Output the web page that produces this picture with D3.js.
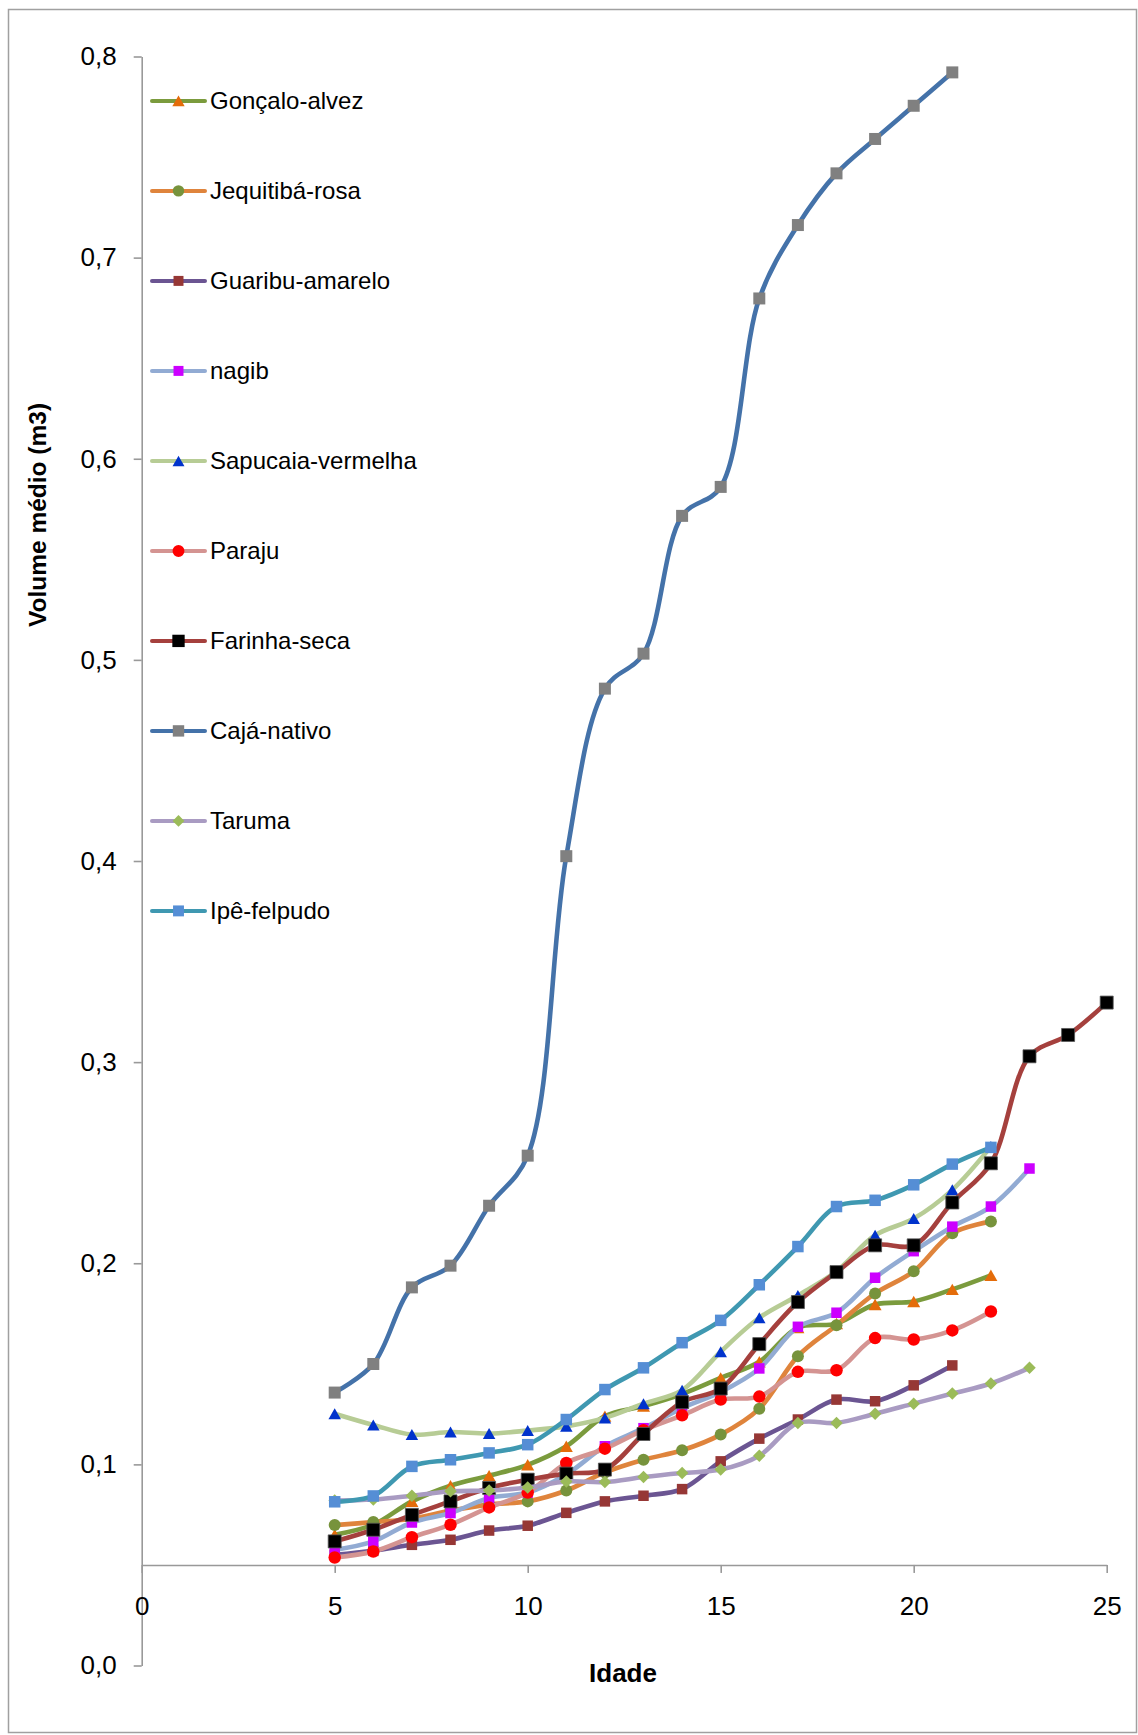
<!DOCTYPE html>
<html>
<head>
<meta charset="utf-8">
<script src="https://cdn.jsdelivr.net/npm/d3@7"></script>
<style>
  body { margin: 0; background: #fff; }
  svg { display: block; }
  text { font-family: "Liberation Sans", Arial, Helvetica, sans-serif; fill: #000; }
</style>
</head>
<body>
<svg id="chart" width="1138" height="1735"></svg>
<script>
// Ages (years) at which each species was measured
const ages = [5, 6, 7, 8, 9, 10, 11, 12, 13, 14, 15, 16, 17, 18, 19, 20, 21, 22, 23, 24, 25];

// Mean volume (m3) per age, starting at age 5
const goncaloAlvez    = [0.065, 0.070, 0.0816, 0.0894, 0.0944, 0.0998, 0.109, 0.124, 0.129, 0.135, 0.143, 0.151, 0.168, 0.170, 0.1795, 0.181, 0.187, 0.194];
const jequitibaRosa   = [0.0698, 0.0713, 0.073, 0.077, 0.080, 0.0816, 0.087, 0.096, 0.1023, 0.107, 0.1148, 0.1277, 0.1538, 0.1692, 0.185, 0.196, 0.2149, 0.2207];
const guaribuAmarelo  = [0.055, 0.057, 0.060, 0.0625, 0.0671, 0.0695, 0.0759, 0.0816, 0.0844, 0.0877, 0.1015, 0.1128, 0.1223, 0.1322, 0.1314, 0.1393, 0.1492];
const nagib           = [0.0575, 0.0617, 0.0711, 0.0758, 0.0833, 0.086, 0.095, 0.109, 0.118, 0.128, 0.136, 0.1477, 0.1684, 0.1754, 0.1928, 0.206, 0.2182, 0.2282, 0.2471];
const sapucaiaVermelha= [0.1252, 0.1196, 0.1148, 0.1161, 0.1153, 0.1168, 0.1189, 0.1231, 0.1302, 0.1369, 0.156, 0.1729, 0.184, 0.196, 0.2139, 0.2222, 0.2365, 0.258];
const paraju          = [0.0537, 0.0567, 0.0638, 0.070, 0.0786, 0.086, 0.1007, 0.1078, 0.117, 0.1244, 0.1322, 0.1337, 0.146, 0.1468, 0.1628, 0.1621, 0.1666, 0.176];
const farinhaSeca     = [0.0617, 0.0675, 0.0749, 0.0816, 0.0883, 0.0924, 0.0954, 0.0974, 0.1151, 0.1309, 0.1377, 0.1598, 0.1807, 0.1956, 0.2089, 0.2089, 0.2302, 0.2497, 0.3029, 0.3135, 0.3296];
const cajaNativo      = [0.1357, 0.1499, 0.188, 0.1988, 0.2286, 0.2535, 0.4024, 0.4857, 0.5031, 0.5716, 0.586, 0.6797, 0.7162, 0.7419, 0.759, 0.7755, 0.7921];
const taruma          = [0.082, 0.0825, 0.0844, 0.0866, 0.087, 0.0885, 0.0915, 0.0912, 0.0937, 0.0957, 0.0974, 0.1043, 0.1206, 0.1206, 0.1252, 0.1302, 0.1352, 0.1402, 0.148];
const ipeFelpudo      = [0.0814, 0.0843, 0.099, 0.1023, 0.1057, 0.1098, 0.1223, 0.1372, 0.148, 0.1605, 0.1716, 0.1893, 0.2083, 0.2282, 0.2313, 0.239, 0.2493, 0.2576];

const seriesNames = ["Gonçalo-alvez", "Jequitibá-rosa", "Guaribu-amarelo", "nagib", "Sapucaia-vermelha",
                     "Paraju", "Farinha-seca", "Cajá-nativo", "Taruma", "Ipê-felpudo"];
const seriesValues = [goncaloAlvez, jequitibaRosa, guaribuAmarelo, nagib, sapucaiaVermelha,
                      paraju, farinhaSeca, cajaNativo, taruma, ipeFelpudo];

const yTicks = [0, 0.1, 0.2, 0.3, 0.4, 0.5, 0.6, 0.7, 0.8];
const xTicks = [0, 5, 10, 15, 20, 25];

// Styling per series
const lineColors   = ["#7B9B3D", "#DF843C", "#6B5592", "#92ABD3", "#B7CC95", "#D49492", "#A5403D", "#4472A9", "#A99BC2", "#3F98B1"];
const markerColors = ["#E46C0A", "#77933C", "#963735", "#CC00FF", "#0033CC", "#FF0000", "#000000", "#808080", "#9BBB59", "#558ED5"];
const markerShapes = ["triangle", "circle", "square", "square", "triangle", "circle", "square", "square", "diamond", "square"];
const markerSizes  = [13, 12, 10.5, 10.5, 12.5, 12.5, 13, 12, 12.5, 11.5];

const svg = d3.select("#chart");

// Outer chart frame
svg.append("rect")
  .attr("x", 8.5).attr("y", 9.5).attr("width", 1128).attr("height", 1723)
  .attr("fill", "#fff").attr("stroke", "#a0a0a0").attr("stroke-width", 1.5);

const x = d3.scaleLinear().domain([0, 25]).range([141.7, 1106.7]);
const y = d3.scaleLinear().domain([0, 0.8]).range([1665.5, 56.5]);

const fmtY = d => d3.format(".1f")(d).replace(".", ",");

// Y axis
const yAxis = svg.append("g")
  .attr("transform", `translate(${x(0)},0)`)
  .call(d3.axisLeft(y).tickValues(yTicks).tickFormat(fmtY).tickSize(8).tickSizeOuter(0).tickPadding(17));

// X axis, crossing the value axis at 0.05
const xAxis = svg.append("g")
  .attr("transform", `translate(0,${y(0.05)})`)
  .call(d3.axisBottom(x).tickValues(xTicks).tickFormat(d3.format("d")).tickSize(8).tickSizeOuter(0).tickPadding(24));

[yAxis, xAxis].forEach(g => {
  g.selectAll("path.domain").attr("stroke", "#999").attr("stroke-width", 1.6);
  g.selectAll(".tick line").attr("stroke", "#999").attr("stroke-width", 1.6);
  g.selectAll(".tick text").attr("font-size", 26).attr("font-family", "'Liberation Sans', Arial, sans-serif").attr("fill", "#000");
});

// Axis titles
svg.append("text")
  .attr("transform", `translate(37,515) rotate(-90)`)
  .attr("text-anchor", "middle").attr("dominant-baseline", "central")
  .attr("font-size", 24.5).attr("font-weight", "bold")
  .text("Volume médio (m3)");

svg.append("text")
  .attr("x", 623).attr("y", 1682)
  .attr("text-anchor", "middle")
  .attr("font-size", 26).attr("font-weight", "bold")
  .text("Idade");

// Marker path generator
function markerPath(shape, s) {
  if (shape === "square") return d3.symbol(d3.symbolSquare, s * s)();
  if (shape === "circle") return d3.symbol(d3.symbolCircle, Math.PI * (s / 2) * (s / 2))();
  if (shape === "triangle") {
    const h = s * 0.88;
    return `M0,${-h / 2}L${s / 2},${h / 2}L${-s / 2},${h / 2}Z`;
  }
  const r = s / 2; // diamond
  return `M0,${-r}L${r},0L0,${r}L${-r},0Z`;
}

const line = d3.line()
  .x(d => x(d.age))
  .y(d => y(d.v))
  .curve(d3.curveCatmullRom.alpha(0.5));

const plot = svg.append("g");
seriesValues.forEach((vals, i) => {
  const pts = vals.map((v, k) => ({ age: ages[k], v }));
  const g = plot.append("g");
  g.append("path")
    .datum(pts)
    .attr("d", line)
    .attr("fill", "none")
    .attr("stroke", lineColors[i])
    .attr("stroke-width", 4.6)
    .attr("stroke-linejoin", "round")
    .attr("stroke-linecap", "round");
  g.selectAll("path.mk")
    .data(pts)
    .join("path")
    .attr("class", "mk")
    .attr("transform", d => `translate(${x(d.age)},${y(d.v)})`)
    .attr("d", markerPath(markerShapes[i], markerSizes[i]))
    .attr("fill", markerColors[i])
    .attr("stroke", markerColors[i] === "#000000" ? "#555" : "none")
    .attr("stroke-width", 0.8);
});

// Legend
const legend = svg.append("g");
seriesNames.forEach((name, i) => {
  const ly = 100.9 + 90 * i;
  const g = legend.append("g").attr("transform", `translate(0,${ly})`);
  g.append("line")
    .attr("x1", 152).attr("x2", 205).attr("y1", 0).attr("y2", 0)
    .attr("stroke", lineColors[i]).attr("stroke-width", 4).attr("stroke-linecap", "round");
  g.append("path")
    .attr("transform", "translate(178.5,0)")
    .attr("d", markerPath(markerShapes[i], markerSizes[i] * 0.95))
    .attr("fill", markerColors[i]);
  g.append("text")
    .attr("x", 210).attr("y", 0)
    .attr("dominant-baseline", "central")
    .attr("font-size", 24)
    .text(name);
});
</script>
</body>
</html>
